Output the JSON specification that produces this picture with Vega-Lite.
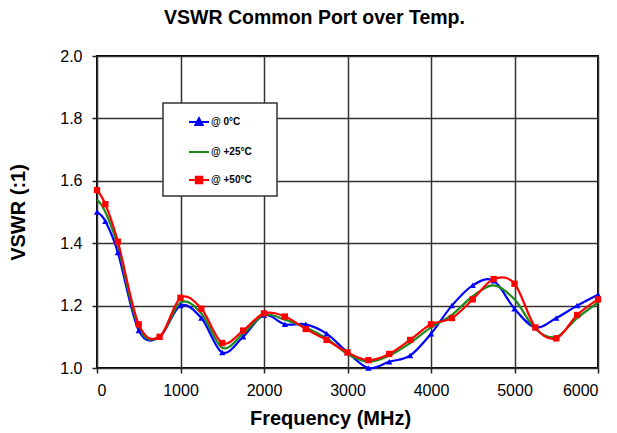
{
  "$schema": "https://vega.github.io/schema/vega-lite/v6.json",
  "width": 501,
  "height": 312,
  "autosize": {"type": "none"},
  "padding": {"left": 97, "top": 56, "right": 19, "bottom": 65},
  "background": "white",
  "title": {
    "text": "VSWR Common Port over Temp.",
    "font": "Liberation Sans",
    "fontSize": 19.5,
    "fontWeight": "bold",
    "color": "black",
    "anchor": "middle",
    "offset": 20,
    "dx": -33
  },
  "config": {
    "view": {"stroke": "black", "strokeWidth": 2},
    "axis": {
      "labelFont": "Liberation Sans",
      "labelFontSize": 16,
      "labelColor": "black",
      "titleFont": "Liberation Sans",
      "titleFontSize": 20,
      "titleFontWeight": "bold",
      "titleColor": "black",
      "tickColor": "#222",
      "tickSize": 5,
      "tickWidth": 1.5,
      "domain": false,
      "grid": true,
      "gridColor": "#333",
      "gridWidth": 1.5
    }
  },
  "data": {
    "values": [
      {"series": "@ 0°C", "freq": 0, "vswr": 1.50},
      {"series": "@ 0°C", "freq": 100, "vswr": 1.47},
      {"series": "@ 0°C", "freq": 250, "vswr": 1.37},
      {"series": "@ 0°C", "freq": 500, "vswr": 1.12},
      {"series": "@ 0°C", "freq": 750, "vswr": 1.10},
      {"series": "@ 0°C", "freq": 1000, "vswr": 1.20},
      {"series": "@ 0°C", "freq": 1250, "vswr": 1.16},
      {"series": "@ 0°C", "freq": 1500, "vswr": 1.05},
      {"series": "@ 0°C", "freq": 1750, "vswr": 1.10},
      {"series": "@ 0°C", "freq": 2000, "vswr": 1.17},
      {"series": "@ 0°C", "freq": 2250, "vswr": 1.14},
      {"series": "@ 0°C", "freq": 2500, "vswr": 1.14},
      {"series": "@ 0°C", "freq": 2750, "vswr": 1.11},
      {"series": "@ 0°C", "freq": 3000, "vswr": 1.05},
      {"series": "@ 0°C", "freq": 3250, "vswr": 1.00},
      {"series": "@ 0°C", "freq": 3500, "vswr": 1.02},
      {"series": "@ 0°C", "freq": 3750, "vswr": 1.04},
      {"series": "@ 0°C", "freq": 4000, "vswr": 1.11},
      {"series": "@ 0°C", "freq": 4250, "vswr": 1.20},
      {"series": "@ 0°C", "freq": 4500, "vswr": 1.265},
      {"series": "@ 0°C", "freq": 4750, "vswr": 1.28},
      {"series": "@ 0°C", "freq": 5000, "vswr": 1.19},
      {"series": "@ 0°C", "freq": 5250, "vswr": 1.13},
      {"series": "@ 0°C", "freq": 5500, "vswr": 1.16},
      {"series": "@ 0°C", "freq": 5750, "vswr": 1.20},
      {"series": "@ 0°C", "freq": 6000, "vswr": 1.235},
      {"series": "@ +25°C", "freq": 0, "vswr": 1.54},
      {"series": "@ +25°C", "freq": 100, "vswr": 1.50},
      {"series": "@ +25°C", "freq": 250, "vswr": 1.39},
      {"series": "@ +25°C", "freq": 500, "vswr": 1.13},
      {"series": "@ +25°C", "freq": 750, "vswr": 1.10},
      {"series": "@ +25°C", "freq": 1000, "vswr": 1.21},
      {"series": "@ +25°C", "freq": 1250, "vswr": 1.175},
      {"series": "@ +25°C", "freq": 1500, "vswr": 1.065},
      {"series": "@ +25°C", "freq": 1750, "vswr": 1.11},
      {"series": "@ +25°C", "freq": 2000, "vswr": 1.17},
      {"series": "@ +25°C", "freq": 2250, "vswr": 1.155},
      {"series": "@ +25°C", "freq": 2500, "vswr": 1.13},
      {"series": "@ +25°C", "freq": 2750, "vswr": 1.095},
      {"series": "@ +25°C", "freq": 3000, "vswr": 1.045},
      {"series": "@ +25°C", "freq": 3250, "vswr": 1.02},
      {"series": "@ +25°C", "freq": 3500, "vswr": 1.04},
      {"series": "@ +25°C", "freq": 3750, "vswr": 1.08},
      {"series": "@ +25°C", "freq": 4000, "vswr": 1.13},
      {"series": "@ +25°C", "freq": 4250, "vswr": 1.17},
      {"series": "@ +25°C", "freq": 4500, "vswr": 1.23},
      {"series": "@ +25°C", "freq": 4750, "vswr": 1.265},
      {"series": "@ +25°C", "freq": 5000, "vswr": 1.22},
      {"series": "@ +25°C", "freq": 5250, "vswr": 1.125},
      {"series": "@ +25°C", "freq": 5500, "vswr": 1.10},
      {"series": "@ +25°C", "freq": 5750, "vswr": 1.16},
      {"series": "@ +25°C", "freq": 6000, "vswr": 1.21},
      {"series": "@ +50°C", "freq": 0, "vswr": 1.57},
      {"series": "@ +50°C", "freq": 100, "vswr": 1.525},
      {"series": "@ +50°C", "freq": 250, "vswr": 1.405},
      {"series": "@ +50°C", "freq": 500, "vswr": 1.14},
      {"series": "@ +50°C", "freq": 750, "vswr": 1.10},
      {"series": "@ +50°C", "freq": 1000, "vswr": 1.225},
      {"series": "@ +50°C", "freq": 1250, "vswr": 1.19},
      {"series": "@ +50°C", "freq": 1500, "vswr": 1.08},
      {"series": "@ +50°C", "freq": 1750, "vswr": 1.12},
      {"series": "@ +50°C", "freq": 2000, "vswr": 1.175},
      {"series": "@ +50°C", "freq": 2250, "vswr": 1.165},
      {"series": "@ +50°C", "freq": 2500, "vswr": 1.125},
      {"series": "@ +50°C", "freq": 2750, "vswr": 1.09},
      {"series": "@ +50°C", "freq": 3000, "vswr": 1.05},
      {"series": "@ +50°C", "freq": 3250, "vswr": 1.025},
      {"series": "@ +50°C", "freq": 3500, "vswr": 1.045},
      {"series": "@ +50°C", "freq": 3750, "vswr": 1.09},
      {"series": "@ +50°C", "freq": 4000, "vswr": 1.14},
      {"series": "@ +50°C", "freq": 4250, "vswr": 1.16},
      {"series": "@ +50°C", "freq": 4500, "vswr": 1.22},
      {"series": "@ +50°C", "freq": 4750, "vswr": 1.285},
      {"series": "@ +50°C", "freq": 5000, "vswr": 1.27},
      {"series": "@ +50°C", "freq": 5250, "vswr": 1.13},
      {"series": "@ +50°C", "freq": 5500, "vswr": 1.095},
      {"series": "@ +50°C", "freq": 5750, "vswr": 1.17},
      {"series": "@ +50°C", "freq": 6000, "vswr": 1.22}
    ]
  },
  "encoding": {
    "x": {
      "field": "freq",
      "type": "quantitative",
      "scale": {"domain": [0, 6000], "nice": false},
      "axis": {
        "title": "Frequency (MHz)",
        "values": [0, 1000, 2000, 3000, 4000, 5000, 6000],
        "format": "d",
        "labelPadding": 9,
        "titlePadding": 10,
        "titleX": 233
      }
    },
    "y": {
      "field": "vswr",
      "type": "quantitative",
      "scale": {"domain": [1, 2], "nice": false, "zero": false},
      "axis": {
        "title": "VSWR (:1)",
        "values": [1.0, 1.2, 1.4, 1.6, 1.8, 2.0],
        "format": ".1f",
        "labelPadding": 10,
        "titlePadding": 31
      }
    },
    "color": {
      "field": "series",
      "type": "nominal",
      "scale": {
        "domain": ["@ 0°C", "@ +25°C", "@ +50°C"],
        "range": ["#0000FF", "#1A8A1A", "#FF0000"]
      }
    }
  },
  "layer": [
    {
      "mark": {"type": "line", "interpolate": "cardinal", "strokeWidth": 2.2},
      "encoding": {
        "color": {
          "field": "series",
          "type": "nominal",
          "scale": {
            "domain": ["@ 0°C", "@ +25°C", "@ +50°C"],
            "range": ["#0000FF", "#1A8A1A", "#FF0000"]
          },
          "legend": {
            "title": "\u2003",
            "titleOrient": "right",
            "titleFontSize": 9,
            "titlePadding": 17,
            "orient": "none",
            "legendX": 66,
            "legendY": 47,
            "fillColor": "white",
            "strokeColor": "#333",
            "padding": 8,
            "symbolOffset": 17,
            "rowPadding": 12,
            "symbolSize": 400,
            "symbolStrokeWidth": 2,
            "labelFont": "Liberation Sans",
            "labelFontSize": 10,
            "labelFontWeight": "bold",
            "labelColor": "black",
            "labelOffset": 1,
            "encode": {
              "legend": {"update": {"strokeWidth": {"value": 1.5}}},
              "symbols": {
                "update": {
                  "shape": {"signal": "datum.value === '@ 0°C' ? 'M-1,0H1M0,-0.38L0.36,0.3L-0.36,0.3Z' : (datum.value === '@ +50°C' ? 'M-1,0H1M-0.32,-0.32H0.32V0.32H-0.32Z' : 'M-1,0H1')"},
                  "fill": {"scale": "color", "field": "value"},
                  "stroke": {"scale": "color", "field": "value"},
                  "opacity": {"value": 1}
                }
              }
            }
          }
        }
      }
    },
    {
      "transform": [{"filter": "datum.series !== '@ +25°C'"}],
      "mark": {"type": "point", "filled": true, "opacity": 1},
      "encoding": {
        "shape": {
          "field": "series",
          "type": "nominal",
          "scale": {"domain": ["@ 0°C", "@ +50°C"], "range": ["triangle-up", "square"]},
          "legend": null
        },
        "size": {"value": 40}
      }
    }
  ]
}
